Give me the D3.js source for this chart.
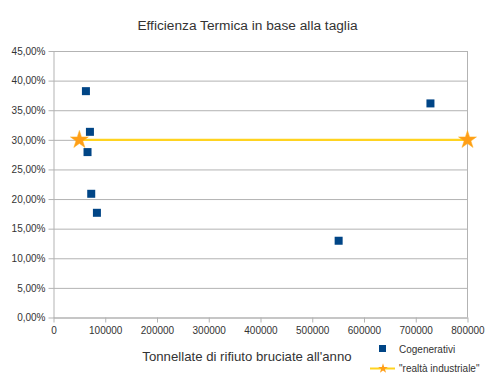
<!DOCTYPE html>
<html><head><meta charset="utf-8">
<script src="https://cdn.jsdelivr.net/npm/d3@7/dist/d3.min.js"></script>
<style>body{margin:0;background:#fff}svg{display:block;font-family:"Liberation Sans",Arial,sans-serif}</style>
</head><body>
<script>
const title = "Efficienza Termica in base alla taglia";
const xTitle = "Tonnellate di rifiuto bruciate all'anno";
const cogenX = [62650, 70400, 65750, 72900, 83900, 551000, 728400];
const cogenY = [38.22, 31.35, 27.93, 20.89, 17.68, 12.96, 36.15];
const lineX = [50000, 800000];
const lineY = [30, 30];
const xTicks = [0,100000,200000,300000,400000,500000,600000,700000,800000];
const yTicks = [0,5,10,15,20,25,30,35,40,45];
const seriesNames = ["Cogenerativi", "\"realtà industriale\""];

const W=494,H=382;
const m={l:53.5,r:467.5,t:51,b:317.5};
const svg=d3.select("body").append("svg").attr("width",W).attr("height",H);
const x=d3.scaleLinear().domain([0,800000]).range([m.l,m.r]);
const y=d3.scaleLinear().domain([0,45]).range([m.b,m.t]);
const textCol="#333";

svg.append("text").attr("x",247.5).attr("y",30).attr("text-anchor","middle").attr("font-size",13.7).attr("fill",textCol).text(title);

const yAxis=d3.axisLeft(y).tickValues(yTicks).tickSize(-(m.r-m.l)).tickSizeOuter(0)
  .tickFormat(d=>d.toFixed(2).replace(".",",")+"%").tickPadding(8);
const gy=svg.append("g").attr("transform",`translate(${m.l},0)`).call(yAxis);
gy.select(".domain").attr("stroke","#b3b3b3");
gy.selectAll(".tick line").attr("stroke","#b3b3b3").attr("x1",-5);
gy.selectAll(".tick text").attr("font-size",10).attr("fill",textCol).attr("font-family","Liberation Sans, Arial, sans-serif");

const xAxis=d3.axisBottom(x).tickValues(xTicks).tickSize(5).tickSizeOuter(0).tickFormat(d=>String(d)).tickPadding(4);
const gx=svg.append("g").attr("transform",`translate(0,${m.b})`).call(xAxis);
gx.select(".domain").attr("stroke","#b3b3b3");
gx.selectAll(".tick line").attr("stroke","#b3b3b3");
gx.selectAll(".tick text").attr("font-size",10).attr("fill",textCol).attr("font-family","Liberation Sans, Arial, sans-serif");
svg.append("line").attr("x1",m.r).attr("x2",m.r).attr("y1",m.t).attr("y2",m.b).attr("stroke","#b3b3b3");

svg.append("text").attr("x",247).attr("y",361).attr("text-anchor","middle").attr("font-size",13.2).attr("fill",textCol).text(xTitle);

const lineData=lineX.map((v,i)=>[v,lineY[i]]);
svg.append("path").datum(lineData).attr("d",d3.line().x(d=>x(d[0])).y(d=>y(d[1])))
  .attr("stroke","#ffd320").attr("stroke-width",2.2).attr("fill","none");
const star=d3.symbol().type(d3.symbolStar).size(100);
svg.selectAll(".star").data(lineData).join("path").attr("class","star")
  .attr("d",star).attr("transform",d=>`translate(${x(d[0])},${y(d[1])})`)
  .attr("fill","#ff9e17").attr("stroke","#ffb020").attr("stroke-width",0.5);

const pts=cogenX.map((v,i)=>[v,cogenY[i]]);
const s=8;
svg.selectAll(".sq").data(pts).join("rect").attr("class","sq")
  .attr("x",d=>x(d[0])-s/2).attr("y",d=>y(d[1])-s/2).attr("width",s).attr("height",s)
  .attr("fill","#004586");

svg.append("rect").attr("x",379).attr("y",345).attr("width",7).attr("height",7).attr("fill","#004586");
svg.append("text").attr("x",399).attr("y",352.5).attr("font-size",10).attr("fill",textCol).text(seriesNames[0]);
svg.append("line").attr("x1",370).attr("x2",395).attr("y1",368.5).attr("y2",368.5).attr("stroke","#ffd320").attr("stroke-width",2);
svg.append("path").attr("d",d3.symbol().type(d3.symbolStar).size(30)).attr("transform","translate(383,368.5)").attr("fill","#ff9e17");
svg.append("text").attr("x",399).attr("y",372).attr("font-size",10).attr("fill",textCol).text(seriesNames[1]);
</script>
</body></html>
